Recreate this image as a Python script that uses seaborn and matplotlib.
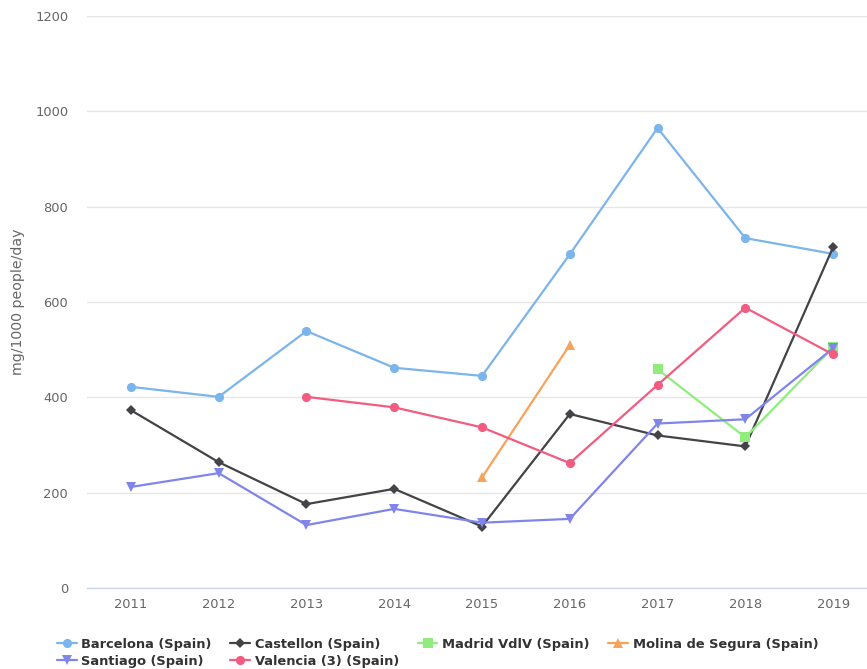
import matplotlib
matplotlib.use("Agg")
import matplotlib.pyplot as plt
import seaborn as sns
import pandas as pd
import numpy as np
from matplotlib.ticker import FixedLocator, NullFormatter
from matplotlib.lines import Line2D

years = ["2011", "2012", "2013", "2014", "2015", "2016", "2017", "2018", "2019"]

barcelona = [422, 401, 539, 462, 445, 700, 965, 734, 701]
castellon = [373, 264, 176, 208, 129, 365, 320, 297, 715]
madrid = [None, None, None, None, None, None, 459, 316, 505]
molina = [None, None, None, None, 232, 510, None, None, None]
santiago = [212, 241, 132, 166, 137, 145, 345, 354, 503]
valencia = [None, None, 401, 379, 337, 262, 426, 588, 490]

series_names = ["Barcelona (Spain)", "Castellon (Spain)", "Madrid VdlV (Spain)",
                "Molina de Segura (Spain)", "Santiago (Spain)", "Valencia (3) (Spain)"]
series_values = [barcelona, castellon, madrid, molina, santiago, valencia]

colors = ["#7cb5ec", "#434348", "#90ed7d", "#f7a35c", "#8085e9", "#f15c80"]
markers = ["o", "D", "s", "^", "v", "o"]
msizes = [6.6, 5.6, 7.0, 7.0, 7.0, 6.6]

rows = []
for name, vals in zip(series_names, series_values):
    for i, v in enumerate(vals):
        if v is not None:
            rows.append({"x": i, "value": v, "series": name})
df = pd.DataFrame(rows)

sns.set_theme(style="white")
plt.rcParams["font.family"] = ["DejaVu Sans"]

fig = plt.figure(figsize=(8.67, 6.69), dpi=100)
W, H = 867, 669
left, right, top, bottom = 87, 877, 16, 588
ax = fig.add_axes([left / W, (H - bottom) / H, (right - left) / W, (bottom - top) / H])

sns.lineplot(data=df, x="x", y="value", hue="series", style="series",
             hue_order=series_names, style_order=series_names,
             palette=dict(zip(series_names, colors)),
             markers=dict(zip(series_names, markers)),
             dashes=False, linewidth=1.6, markersize=6, markeredgewidth=0,
             ax=ax, legend=False)

for line, ms in zip(ax.lines, msizes):
    line.set_markersize(ms)

ax.set_xlim(-0.5, 8.5)
ax.set_ylim(0, 1200)
ax.set_yticks([0, 200, 400, 600, 800, 1000, 1200])
ax.set_xticks(range(len(years)))
ax.set_xticklabels(years)
ax.xaxis.set_minor_locator(FixedLocator(np.arange(-0.5, 9.0, 1.0)))
ax.xaxis.set_minor_formatter(NullFormatter())

for s in ["top", "right", "left"]:
    ax.spines[s].set_visible(False)
ax.spines["bottom"].set_color("#ccd6eb")
ax.spines["bottom"].set_linewidth(1.0)

ax.yaxis.grid(True, color="#e6e6e6", linewidth=1.0)
ax.xaxis.grid(False)
ax.set_axisbelow(True)

ax.tick_params(axis="y", length=0, pad=13.5, labelsize=9.4, labelcolor="#666666")
ax.tick_params(axis="x", which="major", length=0, pad=7, labelsize=9.4, labelcolor="#666666")
ax.tick_params(axis="x", which="minor", length=7.2, width=1.0, color="#ccd6eb", direction="out")

ax.set_xlabel("")
ax.set_ylabel("mg/1000 people/day", fontsize=10.2, color="#666666")
ax.yaxis.set_label_coords((25 - left) / (right - left), 0.5)

# legend (row-major order like the reference)
handles = [Line2D([], [], color=c, marker=m, markersize=ms, markeredgewidth=0, linewidth=1.6)
           for c, m, ms in zip(colors, markers, msizes)]
order = [0, 4, 1, 5, 2, 3]
leg = fig.legend([handles[i] for i in order], [series_names[i] for i in order],
                 ncol=4, loc="upper left",
                 bbox_to_anchor=(57 / W, 1 - 638 / H), frameon=False,
                 prop={"weight": "bold", "size": 9.4}, handlelength=1.5,
                 handletextpad=0.35, columnspacing=1.45, labelspacing=0.3,
                 borderaxespad=0, borderpad=0)
for t in leg.get_texts():
    t.set_color("#333333")

fig.savefig("out.png", dpi=100)
